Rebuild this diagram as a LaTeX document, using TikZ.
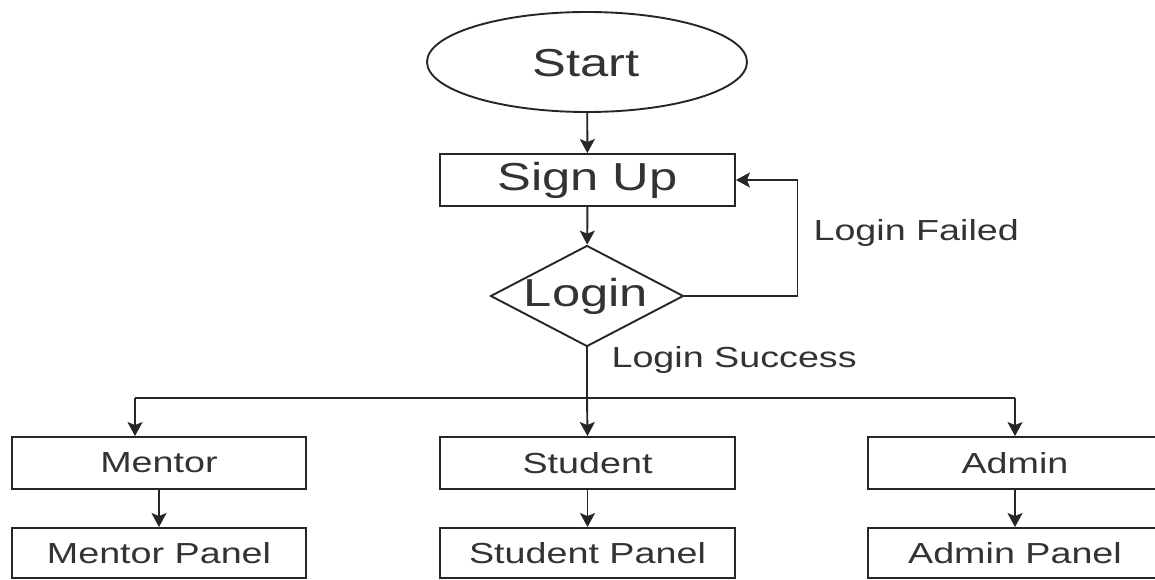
\documentclass[tikz,border=0pt]{standalone}
\usepackage{fontspec}
\setmainfont{Liberation Sans}[FakeStretch=1.3]
\usetikzlibrary{shapes.geometric,arrows.meta}
\newcommand{\flowbig}{\fontsize{39}{44}\selectfont}
\newcommand{\flowsmall}{\fontsize{29}{34}\selectfont}

\begin{document}
\begin{tikzpicture}[x=1pt,y=-1pt,
  every node/.style={text=black!80},
  line/.style={draw=black!85, line width=1.9pt},
  arrow/.style={line, -{Stealth[length=14pt,width=15pt,inset=3pt]}},
  box/.style={line, rectangle, minimum width=294pt, minimum height=52pt, inner sep=0pt, font=\flowsmall},
  panel/.style={box, minimum height=50pt}]

  \useasboundingbox (0,0) rectangle (1155,580);
  \clip (0,0) rectangle (1155,580);

  % Start, sign up and the login test
  \node[line, ellipse, minimum width=320pt, minimum height=100pt, inner sep=0pt] (start) at (587,62) {};
  \node[font=\flowbig] (starttext) at (586,63) {Start};

  \node[box, minimum width=295pt, font=\flowbig] (signup) at (587.5,180) {Sign Up};

  \node[line, diamond, minimum width=193pt, minimum height=101pt, inner sep=0pt] (login) at (587,296) {};
  \node[font=\flowbig] (logintext) at (586,296) {Login};

  \draw[arrow] (start) -- (signup);
  \draw[arrow] (signup) -- (login);

  % Login failed goes back to sign up
  \draw[arrow] (login.east) -- ++(113,0) |- (signup.east);
  \node[font=\flowsmall, anchor=west] (failed) at (810,233) {Login Failed};

  % Login success splits to the three roles
  \coordinate (split) at (587,398);
  \coordinate (mentorin) at (135,398);
  \coordinate (adminin) at (1015,398);

  \node[box] (mentor) at (159,463) {Mentor};
  \node[box, minimum width=295pt] (student) at (587.5,463) {Student};
  \node[box] (admin) at (1015,463) {Admin};

  \node[panel] (mentorpanel) at (159,553) {Mentor Panel};
  \node[panel, minimum width=295pt] (studentpanel) at (587.5,553) {Student Panel};
  \node[panel] (adminpanel) at (1015,553) {Admin Panel};

  \draw[line] (login.south) -- (split);
  \node[font=\flowsmall, anchor=west] (success) at (608,360) {Login Success};
  \draw[line] (mentorin) -- (adminin);
  \draw[arrow] (mentorin) -- (mentorin |- mentor.north);
  \draw[arrow] (split) -- (student.north);
  \draw[arrow] (adminin) -- (admin.north);

  \draw[arrow] (mentor) -- (mentorpanel);
  \draw[arrow] (student) -- (studentpanel);
  \draw[arrow] (admin) -- (adminpanel);

\end{tikzpicture}
\end{document}
